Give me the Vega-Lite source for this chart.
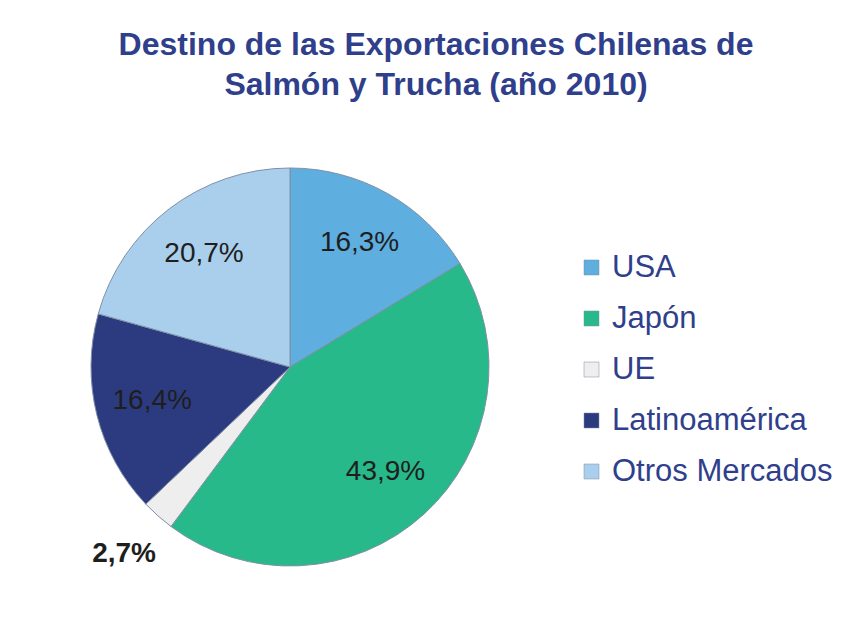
{
  "$schema": "https://vega.github.io/schema/vega-lite/v6.json",
  "width": 400,
  "height": 400,
  "autosize": {"type": "none"},
  "padding": {"left": 90, "top": 167, "right": 353, "bottom": 59},
  "background": "white",
  "config": {
    "view": {"stroke": null},
    "font": "Liberation Sans",
    "locale": {"number": {"decimal": ",", "thousands": ".", "grouping": [3], "currency": ["", " €"]}}
  },
  "title": {
    "text": ["Destino de las Exportaciones Chilenas de", "Salmón y Trucha (año 2010)"],
    "font": "Liberation Sans",
    "fontSize": 32,
    "fontWeight": "bold",
    "color": "#2f3f8c",
    "anchor": "middle",
    "frame": "group",
    "dx": 146,
    "offset": 33,
    "lineHeight": 40
  },
  "data": {
    "values": [
      {"destino": "USA", "share": 0.163, "orden": 1},
      {"destino": "Japón", "share": 0.439, "orden": 2},
      {"destino": "UE", "share": 0.027, "orden": 3},
      {"destino": "Latinoamérica", "share": 0.164, "orden": 4},
      {"destino": "Otros Mercados", "share": 0.207, "orden": 5}
    ]
  },
  "encoding": {
    "theta": {"field": "share", "type": "quantitative", "stack": true},
    "order": {"field": "orden", "type": "quantitative"},
    "color": {
      "field": "destino",
      "type": "nominal",
      "sort": ["USA", "Japón", "UE", "Latinoamérica", "Otros Mercados"],
      "scale": {
        "domain": ["USA", "Japón", "UE", "Latinoamérica", "Otros Mercados"],
        "range": ["#5eaee0", "#27b98a", "#eeeeee", "#2c3b80", "#a9cfec"]
      },
      "legend": {
        "title": null,
        "orient": "none",
        "legendX": 486,
        "legendY": 85,
        "padding": 0,
        "symbolType": "square",
        "symbolSize": 225,
        "symbolStrokeColor": "#7f8fa6",
        "symbolStrokeWidth": 0.5,
        "labelFont": "Liberation Sans",
        "labelFontSize": 31,
        "labelColor": "#2f3f8c",
        "labelOffset": 5,
        "labelLimit": 400,
        "rowPadding": 19
      }
    }
  },
  "layer": [
    {
      "mark": {"type": "arc", "outerRadius": 199, "stroke": "#7f8fa6", "strokeWidth": 1}
    },
    {
      "mark": {"type": "text", "radius": 142, "fontSize": 28, "font": "Liberation Sans"},
      "encoding": {
        "color": {"value": "#1e1e1e"},
        "text": {"condition": {"test": "datum.share > 0.05", "field": "share", "type": "quantitative", "format": ".1%"}, "value": ""}
      }
    },
    {
      "mark": {"type": "text", "radius": 250, "fontSize": 28, "fontWeight": "bold", "font": "Liberation Sans"},
      "encoding": {
        "color": {"value": "#1e1e1e"},
        "text": {"condition": {"test": "datum.share < 0.05", "field": "share", "type": "quantitative", "format": ".1%"}, "value": ""}
      }
    }
  ]
}
